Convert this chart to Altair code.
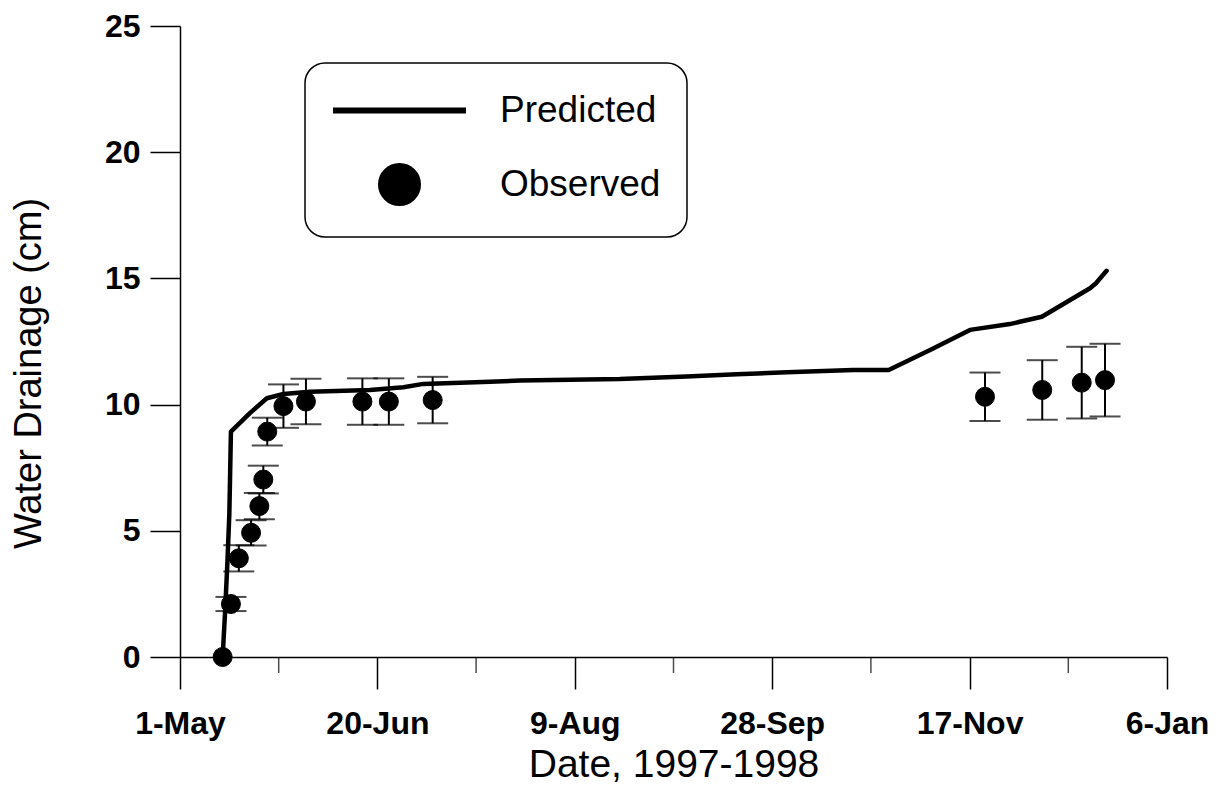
import altair as alt
import pandas as pd

FONT = "Liberation Sans"

# Calendar: day 0 is 1 May 1997
tick_days = [0, 50, 100, 150, 200, 250]
tick_labels = ["1-May", "20-Jun", "9-Aug", "28-Sep", "17-Nov", "6-Jan"]
minor_days = [25, 75, 125, 175, 225]
y_ticks = [0, 5, 10, 15, 20, 25]

# Predicted cumulative drainage (cm)
pred_day = [10.8, 11.4, 12.0, 12.5, 12.9, 17.7, 22.0, 26.2, 32.9, 48.1, 56.6,
            61.6, 78.5, 86.1, 111.4, 128.3, 141.0, 153.7, 170.5, 179.5, 190.0,
            200.1, 210.2, 218.3, 230.5, 232.0, 234.7]
pred_val = [0.0, 1.73, 3.71, 5.69, 8.93, 9.66, 10.25, 10.42, 10.51, 10.58, 10.69,
            10.82, 10.91, 10.95, 11.01, 11.11, 11.20, 11.28, 11.37, 11.37, 12.16,
            12.96, 13.19, 13.48, 14.61, 14.81, 15.30]

# Observed cumulative drainage (cm) with standard error
obs_day = [10.8, 12.9, 14.9, 18.0, 20.1, 21.1, 22.1, 26.2, 31.9, 46.2, 52.9,
           64.0, 203.9, 218.4, 228.4, 234.3]
obs_val = [0.0, 2.10, 3.91, 4.92, 5.98, 7.03, 8.93, 9.94, 10.12, 10.12, 10.12,
           10.18, 10.31, 10.58, 10.87, 10.97]
obs_err = [0.0, 0.28, 0.52, 0.50, 0.52, 0.55, 0.55, 0.86, 0.90, 0.92, 0.92,
           0.92, 0.96, 1.18, 1.42, 1.44]

series_names = ["Predicted", "Observed"]
# legend glyphs: a thin filled bar for the model line, a disc for observations
series_shapes = ["M-3.25,-0.075H3.25V0.075H-3.25Z", "circle"]

pred = pd.DataFrame({"day": pred_day, "drain": pred_val})
obs = pd.DataFrame({"day": obs_day, "drain": obs_val, "err": obs_err})
obs["series"] = "Observed"
obs["lo"] = obs["drain"] - obs["err"]
obs["hi"] = obs["drain"] + obs["err"]
bars = obs[obs["err"] > 0]
minor = pd.DataFrame({"day": minor_days})

label_expr = "''"
for d, lab in reversed(list(zip(tick_days, tick_labels))):
    label_expr = f"datum.value == {d} ? '{lab}' : {label_expr}"

x_scale = alt.Scale(domain=[tick_days[0], tick_days[-1]], nice=False, zero=False)
y_scale = alt.Scale(domain=[y_ticks[0], y_ticks[-1]], nice=False)

x_enc = alt.X(
    "day:Q", scale=x_scale,
    axis=alt.Axis(
        values=tick_days, labelExpr=label_expr, tickSize=32, labelPadding=44,
        labelBaseline="alphabetic", labelFontSize=32, labelFontWeight="bold",
        labelFont=FONT, labelFlush=False, labelOverlap=False,
        title="Date, 1997-1998", titleFontSize=39,
        titleFontWeight="normal", titleFont=FONT, titleBaseline="alphabetic",
        titleY=119, grid=False,
    ),
)
y_enc = alt.Y(
    "drain:Q", scale=y_scale,
    axis=alt.Axis(
        values=y_ticks, tickSize=30, labelPadding=10, labelFontSize=32,
        labelFontWeight="bold", labelFont=FONT, labelFlush=False,
        title="Water Drainage (cm)",
        titleFontSize=38, titleFontWeight="normal", titleFont=FONT,
        titleAngle=270, titleAlign="center", titleBaseline="alphabetic",
        titleX=-140, titleY=347, grid=False,
    ),
)

minor_ticks = alt.Chart(minor).mark_tick(
    orient="vertical", size=16, thickness=1.5, color="black", yOffset=8
).encode(x=alt.X("day:Q", scale=x_scale), y=alt.datum(0))

line = alt.Chart(pred).mark_line(
    color="black", strokeWidth=4.5, strokeJoin="round", strokeCap="round"
).encode(x=x_enc, y=y_enc)

rules = alt.Chart(bars).mark_rule(color="black", strokeWidth=2).encode(
    x=alt.X("day:Q", scale=x_scale), y=alt.Y("lo:Q", scale=y_scale), y2="hi:Q"
)
caps_lo = alt.Chart(bars).mark_tick(
    orient="horizontal", size=31, thickness=2, color="black"
).encode(x=alt.X("day:Q", scale=x_scale), y=alt.Y("lo:Q", scale=y_scale))
caps_hi = alt.Chart(bars).mark_tick(
    orient="horizontal", size=31, thickness=2, color="black"
).encode(x=alt.X("day:Q", scale=x_scale), y=alt.Y("hi:Q", scale=y_scale))

points = alt.Chart(obs).mark_point(
    filled=True, size=361, color="black", fill="black", stroke="black",
    strokeWidth=1, opacity=1,
).encode(
    x=alt.X("day:Q", scale=x_scale),
    y=alt.Y("drain:Q", scale=y_scale),
    shape=alt.Shape(
        "series:N",
        scale=alt.Scale(domain=series_names, range=series_shapes),
        legend=alt.Legend(
            title=None, orient="none", legendX=125, legendY=37,
            direction="vertical", symbolSize=1600, symbolStrokeWidth=3,
            symbolFillColor="black",
            labelFontSize=37, labelFont=FONT, labelColor="black", labelLimit=400,
            symbolOffset=47, labelOffset=79, padding=26, rowPadding=29,
            strokeColor="black", cornerRadius=20, fillColor="white",
        ),
    ),
)

chart = alt.layer(minor_ticks, line, rules, caps_lo, caps_hi, points).properties(
    width=987, height=631,
    padding={"left": 180, "top": 26, "right": 55, "bottom": 128},
    autosize=alt.AutoSizeParams(type="none"),
).configure(font=FONT).configure_view(stroke=None).configure_axis(
    domainColor="black", domainWidth=1.5, tickColor="black", tickWidth=1.5,
    labelColor="black", titleColor="black",
).configure_legend(strokeWidth=1.5)

chart.save("out.html", embed_options={"renderer": "svg", "actions": False})
